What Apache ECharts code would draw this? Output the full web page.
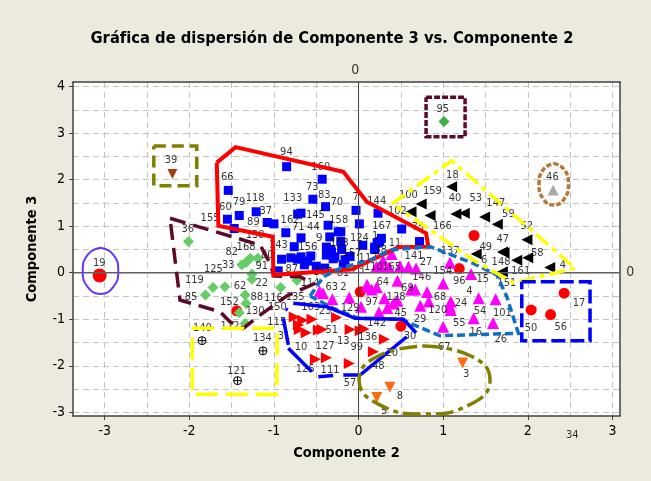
<!DOCTYPE html>
<html lang="es">
<head>
    <meta charset="UTF-8">
    <title>Gráfica de dispersión</title>
    <style>
        html, body {margin: 0; padding: 0; background: #ece9df;}
        #chart1 {width: 651px; height: 481px;}
    </style>
    <script type="text/javascript" src="https://cdn.jsdelivr.net/npm/echarts@6/dist/echarts.min.js"></script>
</head>
<body>
<div id="chart1"></div>
<script type="text/javascript">
    var chartTitle = 'Gráfica de dispersión de Componente 3 vs. Componente 2';
    var xName = 'Componente 2';
    var yName = 'Componente 3';
    var xRange = [-3.375, 3.09];
    var yRange = [-3.08, 4.1];
    var xTicks = [-3, -2, -1, 0, 1, 2, 3];
    var yTicks = [-3, -2, -1, 0, 1, 2, 3, 4];
    var xGrid = [-3, -2.5, -2, -1.5, -1, -0.5, 0.5, 1, 1.5, 2, 2.5, 3];
    var yGrid = [-3, -2.5, -2, -1.5, -1, -0.5, 0.5, 1, 1.5, 2, 2.5, 3, 3.5, 4];

    // puntos por grupo
    var bluePts = [[-0.85,2.28],[-0.43,2.01],[-1.54,1.77],[-0.54,1.58],[-0.39,1.42],[-1.41,1.23],[-1.21,1.31],[-0.72,1.26],[-0.68,1.28],[-1.55,1.15],[-1.08,1.08],[-1.0,1.05],[-1.47,0.95],[-0.86,0.86],[-0.36,1.02],[-0.24,0.88],[-0.34,0.77],[-0.68,0.75],[-0.76,0.56],[-0.38,0.55],[-0.565,0.36],[-0.91,0.29],[-0.80,0.32],[-0.72,0.29],[-0.68,0.34],[-0.64,0.17],[-0.50,0.14],[-0.95,0.04],[-0.38,0.38],[-0.03,1.34],[0.23,1.28],[0.01,1.05],[-0.21,0.88],[0.51,0.94],[0.27,0.74],[0.25,0.67],[0.19,0.50],[0.05,0.59],[0.72,0.67],[-0.18,0.17],[-0.21,0.67],[-0.33,0.5],[-0.32,0.45],[-0.28,0.34],[-0.3,0.3],[-0.16,0.28],[-0.10,0.35],[-0.2,0.5],[-0.4,0.1],[0.22,0.64],[0.19,0.55],[-0.6,0.25]];
    var redDots = [[0.50,-1.15],[1.365,0.80],[1.19,0.09],[0.02,-0.41],[-1.44,-0.82],[2.43,-0.44],[2.04,-0.80],[2.27,-0.90]];
    var bigDot = [[-3.06,-0.06]];
    var blackPts = [[1.10,1.85],[0.74,1.48],[0.62,1.31],[0.845,1.23],[1.15,1.26],[1.25,1.28],[1.49,1.20],[1.64,1.04],[1.99,0.71],[1.39,0.40],[1.70,0.445],[1.72,0.43],[1.87,0.27],[2.0,0.32],[2.26,0.11],[1.70,0.02]];
    var magentaPts = [[-0.11,-0.53],[0.03,-0.73],[0.11,-0.30],[0.155,-0.36],[0.215,-0.31],[0.305,-0.55],[0.24,-0.85],[0.34,-0.76],[0.41,-0.66],[0.46,-0.60],[0.46,-0.17],[0.62,-0.36],[0.67,-0.36],[0.81,-0.415],[0.73,-0.71],[0.83,-0.62],[1.0,-0.23],[1.09,-0.62],[1.09,-0.80],[1.08,-0.73],[1.0,-1.16],[1.33,-0.03],[1.42,-0.55],[1.62,-0.57],[1.36,-0.98],[1.59,-1.08],[0.39,0.40],[0.29,0.27],[0.36,0.12],[0.49,0.14],[0.59,0.13],[0.68,0.09],[0.21,0.13],[0.27,0.13],[-0.42,-0.44],[-0.31,-0.57],[0.10,-0.26],[1.08,0.215],[-0.46,-0.40]];
    var redTri = [[-0.76,-0.95],[-0.66,-1.02],[-0.55,-1.0],[-0.71,-1.125],[-0.70,-1.22],[-0.62,-1.29],[-0.475,-1.23],[-0.43,-1.22],[-0.26,-0.96],[-0.51,-1.86],[-0.38,-1.83],[-0.10,-1.22],[0.02,-1.25],[0.065,-1.21],[0.305,-1.43],[0.175,-1.70],[-0.11,-1.95]];
    var orangeTri = [[1.23,-1.94],[0.37,-2.46],[0.215,-2.68]];
    var brownTri = [[-2.20,2.12]];
    var greenPt = [[1.01,3.25]];
    var grayTri = [[2.30,1.78]];
    var lightGreen = [[-2.01,0.67],[-1.38,0.17],[-1.33,0.22],[-1.28,0.31],[-1.19,0.31],[-1.26,-0.03],[-1.26,-0.14],[-1.81,-0.48],[-1.72,-0.32],[-1.58,-0.30],[-1.34,-0.48],[-1.33,-0.66],[-1.41,-0.86],[-1.34,-1.09],[-0.92,-0.32],[-0.73,-0.16]];
    var crossPts = [[-1.85,-1.46],[-1.13,-1.68],[-1.43,-2.32]];

    // etiquetas: x, y, texto
    var pointLabels = [[-0.853,2.59,'94'],[-0.447,2.28,'160'],[-1.551,2.05,'66'],[-0.546,1.85,'73'],[-0.404,1.67,'83'],[-1.413,1.51,'79'],[-1.223,1.61,'118'],[-0.778,1.61,'133'],[-0.258,1.51,'70'],[-1.574,1.42,'60'],[-1.097,1.33,'37'],[-0.511,1.23,'145'],[-0.234,1.13,'158'],[-1.755,1.18,'155'],[-1.243,1.08,'89'],[-0.81,1.13,'162'],[-0.712,0.98,'71'],[-0.534,0.97,'44'],[-2.019,0.94,'36'],[-0.463,0.74,'9'],[-0.227,0.645,'153'],[-1.223,0.80,'138'],[-0.948,0.60,'143'],[-1.33,0.56,'168'],[-1.499,0.45,'82'],[-0.60,0.56,'156'],[-1.539,0.166,'33'],[-1.144,0.15,'91'],[-0.79,0.08,'87'],[-1.716,0.08,'125'],[-3.064,0.20,'19'],[-2.216,2.41,'39'],[-1.08,0.38,'80'],
        [-1.941,-0.17,'119'],[-1.40,-0.286,'62'],[-1.144,-0.215,'22'],[-1.98,-0.516,'85'],[-1.203,-0.516,'88'],[-1.007,-0.55,'116'],[-0.75,-0.516,'135'],[-0.573,-0.228,'114'],[-0.317,-0.30,'63'],[-1.527,-0.624,'152'],[-1.223,-0.817,'130'],[-0.96,-0.731,'150'],[-0.565,-0.744,'163'],[-0.396,-0.824,'23'],[-0.967,-1.054,'115'],[-0.317,-1.232,'51'],[-0.881,-1.361,'31'],[-1.846,-1.196,'140'],[-1.519,-1.146,'112'],[-1.137,-1.411,'134'],[-0.68,-1.591,'10'],[-0.396,-1.57,'127'],[-1.44,-2.108,'121'],[-0.632,-2.071,'126'],[-0.337,-2.092,'111'],
        [-0.18,-0.314,'2'],[-0.10,-0.766,'129'],[0.156,-0.624,'97'],[0.286,-0.194,'64'],[0.443,-0.516,'128'],[0.577,-0.335,'69'],[0.747,-0.099,'146'],[0.995,0.037,'154'],[1.191,-0.172,'96'],[1.468,-0.142,'15'],[1.31,-0.387,'4'],[0.963,-0.529,'68'],[1.212,-0.658,'24'],[0.936,-0.802,'120'],[1.436,-0.817,'54'],[1.70,-0.86,'101'],[0.499,-0.873,'45'],[0.215,-1.088,'142'],[0.727,-0.996,'29'],[1.191,-1.088,'55'],[1.385,-1.282,'16'],[1.681,-1.426,'26'],[2.039,-1.183,'50'],[2.39,-1.161,'56'],[2.606,-0.658,'17'],[0.109,-1.376,'136'],[-0.18,-1.469,'13'],[-0.021,-1.591,'99'],[0.609,-1.361,'30'],[0.392,-1.733,'20'],[1.014,-1.591,'67'],[0.234,-2.006,'48'],[-0.10,-2.366,'57'],[1.271,-2.178,'3'],[0.49,-2.645,'8'],[0.301,-2.974,'5'],[2.527,-3.49,'34'],
        [0.798,0.237,'27'],[0.656,0.359,'141'],[1.082,0.473,'137'],[1.483,0.273,'6'],[1.504,0.559,'49'],[1.704,0.725,'47'],[1.684,0.224,'148'],[1.917,0.037,'161'],[2.113,0.43,'58'],[2.414,0.166,'4'],[1.988,1.004,'52'],[1.771,1.262,'59'],[1.622,1.505,'147'],[1.385,1.60,'53'],[1.141,1.60,'40'],[1.109,2.10,'18'],[0.872,1.763,'159'],[0.589,1.667,'100'],[0.459,1.333,'102'],[0.99,1.01,'166'],[0.215,1.548,'144'],[-0.033,1.62,'7'],[0.274,1.01,'167'],[0.01,0.753,'124'],[0.195,0.796,'1'],[0.431,0.632,'11'],[0.262,0.488,'38'],[-0.08,0.417,'157'],[0.112,0.316,'117'],[0.175,0.116,'110'],[0.392,0.129,'165'],[-0.041,0.058,'123'],[-0.423,0.022,'107'],[-0.183,-0.006,'81'],[0.703,0.989,'75'],[0.995,3.514,'95'],[2.291,2.052,'46'],[1.752,-0.228,'151']];
    var zeroLabels = [[-0.04,4.36,'0'],[3.21,0.0,'0']];

    // contornos de los grupos
    var redOutline = [[-1.676,2.366],[-1.453,2.70],[-0.18,2.17],[0.097,1.527],[0.798,0.847],[0.825,0.56],[0.47,0.546],[-0.08,0.073],[-1.007,-0.05],[-1.014,0.774],[-1.657,1.01],[-1.676,2.366]];
    var maroonOutline = [[-2.228,1.17],[-1.164,0.596],[-1.046,0.20],[-1.0,-0.07],[-0.69,-0.086],[-0.534,-0.243],[-0.849,-0.50],[-1.164,-0.91],[-1.362,-1.197],[-1.519,-1.054],[-1.637,-0.839],[-2.11,-0.587],[-2.169,0.274],[-2.228,1.17]];
    var midBlueOutline = [[-0.573,-0.50],[-0.416,-0.086],[-0.219,0.095],[0.136,0.273],[0.373,0.488],[0.845,0.56],[1.357,0.2],[1.634,-0.049],[1.752,-0.516],[1.889,-1.303],[0.963,-1.355],[0.609,-1.088],[0.51,-1.0],[0,-0.98],[-0.298,-0.766],[-0.573,-0.50]];
    var blueOutline = [[-0.771,-0.658],[-0.376,-0.731],[-0.041,-0.981],[0.53,-1.002],[0.68,-1.29],null,[0.57,-1.376],[0.018,-2.2],[-0.18,-2.2],null,[-0.475,-2.236],[-0.30,-2.21],null,[-0.553,-2.129],[-0.83,-1.626],null,[-0.83,-1.55],[-0.889,-0.981],null,[-0.837,-0.802],[-0.86,-0.78]];
    var yellowOutline = [[0.392,1.477],[1.10,2.408],[2.559,0.095],[1.83,-0.215],[1.357,0.273],[0.451,1.42]];
    var yellowBox = [[-1.965,-1.196],[-0.96,-1.196],[-0.967,-2.615],[-1.965,-2.615],[-1.965,-1.196]];
    var blueBox = [[1.929,-0.194],[2.736,-0.194],[2.736,-1.462],[1.929,-1.462],[1.929,-0.194]];
    var oliveBox = [[-2.42,2.725],[-1.912,2.725],[-1.912,1.871],[-2.42,1.871],[-2.42,2.725]];
    var maroonBox = [[0.798,3.772],[1.259,3.772],[1.259,2.925],[0.798,2.925],[0.798,3.772]];
    var purpleRing = [[-3.05,0.535],[-2.90,0.39],[-2.84,0.04],[-2.90,-0.31],[-3.05,-0.455],[-3.2,-0.31],[-3.26,0.04],[-3.2,0.39],[-3.05,0.535]];
    var brownRing = [[2.307,2.35],[2.43,2.22],[2.481,1.903],[2.43,1.587],[2.307,1.456],[2.184,1.587],[2.133,1.903],[2.184,2.22],[2.307,2.35]];
    var oliveRing = [[0.78,-1.576],[1.327,-1.79],[1.554,-2.307],[1.327,-2.824],[0.78,-3.038],[0.233,-2.824],[0.006,-2.307],[0.233,-1.79],[0.78,-1.576]];

    var crossSymbol = 'path://M0 10a10 10 0 1 0 20 0a10 10 0 1 0 -20 0M10 0V20M0 10H20';
    var labelFont = 'DejaVu Sans Condensed';
    var axisFont = 'DejaVu Sans Condensed';

    function pointSeries(data, symbol, size, color, rotate, z) {
        return {
            type: 'scatter', data: data, symbol: symbol, symbolSize: size,
            symbolRotate: rotate || 0, z: z || 3,
            itemStyle: {color: color, opacity: 1}, silent: true
        };
    }

    function outline(data, color, width, dash, smooth) {
        return {
            type: 'line', data: data, symbol: 'none', smooth: smooth || false, z: 6, silent: true,
            clip: false, connectNulls: false,
            lineStyle: {color: color, width: width, type: dash, cap: 'butt', join: 'miter'}
        };
    }

    function textSeries(data, size, z) {
        return {
            type: 'scatter', data: data, symbolSize: 1, clip: false, z: z, silent: true,
            itemStyle: {color: 'rgba(0,0,0,0)'},
            labelLayout: {hideOverlap: false},
            label: {
                show: true, position: 'inside', color: '#000', fontFamily: labelFont, fontSize: size,
                formatter: function (p) { return p.value[2]; }
            }
        };
    }

    var myChart = echarts.init(document.getElementById('chart1'));
    var option = {
        animation: false,
        backgroundColor: '#ece9df',
        title: {
            text: chartTitle, left: 327, top: 26, textAlign: 'center',
            textStyle: {fontFamily: 'DejaVu Sans Condensed', fontWeight: 'bold', fontSize: 16.4, color: '#000'}
        },
        grid: {left: 73, right: 31, top: 82, bottom: 65, backgroundColor: '#fff', show: true, borderWidth: 0},
        xAxis: [
            {
                type: 'value', min: xRange[0], max: xRange[1], name: xName, nameLocation: 'middle', nameGap: 30,
                nameTextStyle: {fontFamily: axisFont, fontWeight: 'bold', fontSize: 14.5, color: '#000'},
                axisLine: {show: true, onZero: false, lineStyle: {color: '#404040', width: 1.5}},
                axisTick: {show: true, length: 4, customValues: xTicks, lineStyle: {color: '#404040'}},
                axisLabel: {customValues: xTicks, fontFamily: axisFont, fontSize: 14, color: '#000', margin: 8, showMinLabel: true, showMaxLabel: true},
                splitLine: {show: false}
            },
            {
                type: 'value', min: xRange[0], max: xRange[1], position: 'top',
                axisLine: {show: true, onZero: false, lineStyle: {color: '#404040', width: 1.5}},
                axisTick: {show: false, customValues: xGrid},
                axisLabel: {show: false},
                splitLine: {show: true, lineStyle: {color: '#c4c4c4', type: [6, 4], width: 1}}
            }
        ],
        yAxis: [
            {
                type: 'value', min: yRange[0], max: yRange[1], name: yName, nameLocation: 'middle', nameGap: 33, nameRotate: 90,
                nameTextStyle: {fontFamily: axisFont, fontWeight: 'bold', fontSize: 14.5, color: '#000'},
                axisLine: {show: true, onZero: false, lineStyle: {color: '#404040', width: 1.5}},
                axisTick: {show: true, length: 4, customValues: yTicks, lineStyle: {color: '#404040'}},
                axisLabel: {customValues: yTicks, fontFamily: axisFont, fontSize: 14, color: '#000', margin: 8, showMinLabel: true, showMaxLabel: true},
                splitLine: {show: false}
            },
            {
                type: 'value', min: yRange[0], max: yRange[1], position: 'right',
                axisLine: {show: true, onZero: false, lineStyle: {color: '#404040', width: 1.5}},
                axisTick: {show: false, customValues: yGrid},
                axisLabel: {show: false},
                splitLine: {show: true, lineStyle: {color: '#c4c4c4', type: [6, 4], width: 1}}
            }
        ],
        series: [
            outline([[0, yRange[0]], [0, yRange[1]]], '#404040', 1, 'solid'),
            outline([[xRange[0], 0], [xRange[1], 0]], '#606060', 1.5, 'solid'),
            pointSeries(redDots, 'circle', 11, '#ff0000'),
            pointSeries(bigDot, 'circle', 14, '#ff0000'),
            pointSeries(bluePts, 'rect', 9, '#0000ff'),
            pointSeries(lightGreen, 'diamond', 11, '#66cc66'),
            pointSeries(blackPts, 'triangle', 11, '#000000', 90),
            pointSeries(magentaPts, 'triangle', 12, '#ff00ff'),
            pointSeries(redTri, 'triangle', 11, '#ff0000', -90),
            pointSeries(orangeTri, 'triangle', 11, '#ff6a10', 180),
            pointSeries(brownTri, 'triangle', 10, '#a53c0a', 180),
            pointSeries(greenPt, 'diamond', 11, '#3cb043'),
            pointSeries(grayTri, 'triangle', 11, '#a9a9a9'),
            {
                type: 'scatter', data: crossPts, symbol: crossSymbol, symbolSize: 8, z: 3, silent: true,
                itemStyle: {color: 'rgba(0,0,0,0)', borderColor: '#000', borderWidth: 1, opacity: 1}
            },
            textSeries(pointLabels, 11, 5),
            textSeries(zeroLabels, 14, 5),
            outline(maroonOutline, '#5c0a26', 3.5, [16, 8]),
            outline(redOutline, '#ff0000', 4, 'solid'),
            outline(midBlueOutline, '#0f6fc6', 3.5, [8, 4]),
            outline(blueOutline, '#0000ff', 3.5, 'solid'),
            outline(yellowOutline, '#ffff00', 3.5, [16, 5, 5, 5]),
            outline(yellowBox, '#ffff00', 3.5, [22, 8]),
            outline(blueBox, '#0000ff', 3.5, [14, 5]),
            outline(oliveBox, '#808000', 3.5, [12, 6]),
            outline(maroonBox, '#5c0a26', 3.5, [6, 2]),
            outline(purpleRing, '#6633ff', 2, 'solid', 0.5),
            outline(brownRing, '#b5773c', 3.5, [5, 2], 0.5),
            outline(oliveRing, '#808000', 3.5, [18, 5, 5, 5], 0.5)
        ]
    };
    myChart.setOption(option);
</script>
</body>
</html>
